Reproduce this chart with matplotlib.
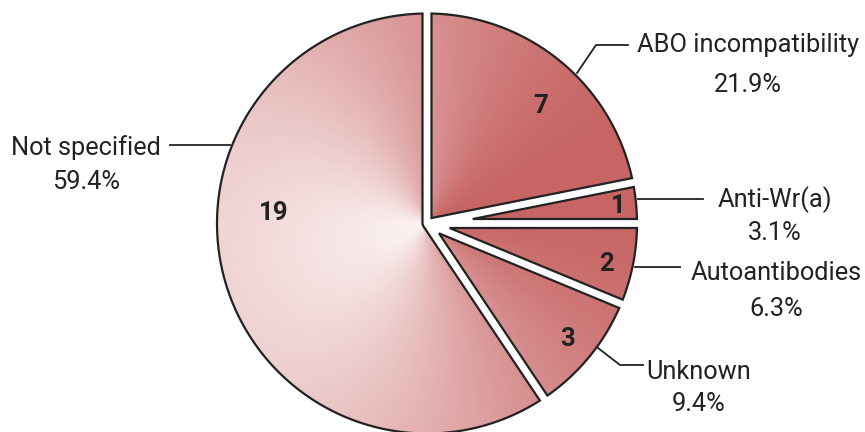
import numpy as np
import matplotlib

matplotlib.use("Agg")
import matplotlib.pyplot as plt
from matplotlib.path import Path
from matplotlib.patches import PathPatch

# data (32 cases)
categories = ["ABO incompatibility", "Anti-Wr(a)", "Autoantibodies", "Unknown", "Not specified"]
counts = [7, 1, 2, 3, 19]
percent_labels = ["21.9%", "3.1%", "6.3%", "9.4%", "59.4%"]

# layout, in pixels (y goes down)
cx, cy, R = 427, 223.5, 210
gap = 4.5  # half of the white gap between slices
name_pos = [(748, 52), (775, 207), (776, 280), (699, 379), (86, 155)]
pct_base = [92, 240, 316, 411, 189]
count_pos = [(541, 113), (618, 213), (607, 271), (568, 346), (274, 220)]
leaders = [
    [(577, 73), (596, 45), (628, 45)],
    [(638, 199), (703, 199)],
    [(635, 267), (680, 267)],
    [(598, 348), (620, 365), (643, 365)],
    [(230, 145), (170, 145)],
]

plt.rcParams["font.family"] = ["Roboto", "DejaVu Sans"]
ink = "#222222"


def to_px(r, theta):
    return cx + r * np.cos(theta), cy - r * np.sin(theta)


def slice_path(lo, hi):
    """wedge from angle lo to hi (radians, ccw), pulled in by gap on the straight sides"""
    half = (hi - lo) / 2
    tip = to_px(gap / np.sin(half), lo + half)
    d = np.arcsin(gap / R)
    arc = np.linspace(lo + d, hi - d, 200)
    xs, ys = to_px(R, arc)
    verts = [tip] + list(zip(xs, ys)) + [tip]
    return Path(verts, closed=True)


# angles: start at top, go clockwise
total = sum(counts)
bounds = 90 - 360 * np.cumsum([0] + counts) / total
paths = [slice_path(np.radians(bounds[i + 1]), np.radians(bounds[i])) for i in range(len(counts))]

fig = plt.figure(figsize=(8.65, 4.32), dpi=100)
ax = fig.add_axes([0, 0, 1, 1])
ax.axis("off")

# conic gradient: dark red near 15 deg, almost white on the opposite side,
# a bit more colour towards the rim
x0, x1, y0, y1 = cx - R - 4, cx + R + 4, cy - R - 4, cy + R + 4
gx, gy = np.meshgrid(np.linspace(x0, x1, 600), np.linspace(y0, y1, 600))
ang = np.arctan2(-(gy - cy), gx - cx)
rad = np.clip(np.hypot(gx - cx, gy - cy) / R, 0, 1)
a = ((1 + np.cos(ang - np.radians(15))) / 2) ** 1.1
t = a + (1 - a) * 0.22 * rad
light = np.array([252, 244, 244]) / 255
dark = np.array([199, 100, 100]) / 255
img = light + t[..., None] * (dark - light)

clip = PathPatch(Path.make_compound_path(*paths), facecolor="none", edgecolor="none")
ax.add_patch(clip)
im = ax.imshow(img, extent=(x0, x1, y1, y0), origin="upper", interpolation="bilinear", zorder=1)
im.set_clip_path(clip)
ax.set_xlim(0, 865)
ax.set_ylim(432, 0)
ax.set_aspect("auto")

for p in paths:
    ax.add_patch(PathPatch(p, facecolor="none", edgecolor=ink, linewidth=1.6, joinstyle="miter", zorder=2))

for i, name in enumerate(categories):
    nx, ny = name_pos[i]
    ax.text(nx, ny, name, ha="center", va="baseline", fontsize=18.3, color=ink)
    ax.text(nx, pct_base[i], percent_labels[i], ha="center", va="baseline", fontsize=18.3, color=ink)
    kx, ky = count_pos[i]
    ax.text(kx, ky, str(counts[i]), ha="center", va="baseline", fontsize=18.5, fontweight="bold", color=ink)
    lx, ly = zip(*leaders[i])
    ax.plot(lx, ly, color=ink, linewidth=1.3, zorder=3)

plt.savefig("out.png", dpi=100)
